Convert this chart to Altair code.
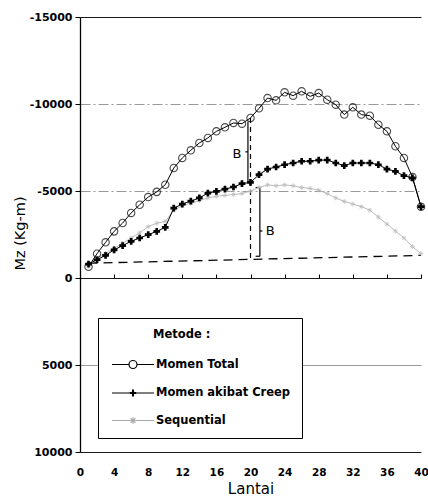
import altair as alt
import pandas as pd

# ---------------- data ----------------
floors = list(range(1, 41))
momen_total = [-650, -1400, -2050, -2680, -3160, -3740, -4210, -4650, -4950, -5360,
               -6320, -6900, -7340, -7760, -8050, -8430, -8660, -8910, -8870, -9200,
               -9750, -10340, -10210, -10670, -10480, -10730, -10440, -10630, -10250, -9960,
               -9390, -9810, -9390, -9330, -8810, -8430, -7570, -6900, -5800, -4100]
momen_creep = [-800, -1050, -1300, -1620, -1860, -2110, -2300, -2490, -2680, -2910,
               -4020, -4250, -4420, -4600, -4880, -4980, -5110, -5230, -5420, -5500,
               -5940, -6260, -6380, -6510, -6610, -6710, -6710, -6770, -6780, -6610,
               -6460, -6610, -6610, -6610, -6510, -6260, -6130, -5880, -5750, -4100]
sequential = [-700, -1100, -1400, -1700, -2000, -2300, -2600, -2950, -3150, -3250,
              -3900, -4150, -4300, -4450, -4600, -4700, -4750, -4800, -4850, -5000,
              -5200, -5350, -5300, -5350, -5300, -5200, -5150, -5050, -4850, -4600,
              -4400, -4250, -4100, -3900, -3500, -3100, -2700, -2300, -1800, -1400]
series_names = ["Momen Total", "Momen akibat Creep", "Sequential"]
series_colors = ["black", "black", "#a9a9a9"]

x_ticks = list(range(0, 41, 4))
y_ticks = [-15000, -10000, -5000, 0, 5000, 10000]

baseline_x = [1, 40]
baseline_y = [-850, -1300]

gap_x = [20]
gap_top = [-9200]
gap_bottom = [-1100]

brace_x1 = [19.7, 19.7, 21.1, 21.1, 21.1, 21.1]
brace_x2 = [19.7, 19.4, 21.1, 21.4, 20.6, 20.6]
brace_y1 = [-9000, -7250, -5200, -2700, -5200, -1250]
brace_y2 = [-5500, -7250, -1250, -2700, -5200, -1250]

label_x = [18.4, 22.3]
label_y = [-7100, -2700]
label_text = ["B", "B"]

# ---------------- tables ----------------
rows = []
for name, vals in zip(series_names, [momen_total, momen_creep, sequential]):
    for f, v in zip(floors, vals):
        rows.append({"x": f, "y": v, "series": name})
df = pd.DataFrame(rows)
base_df = pd.DataFrame({"x": baseline_x, "y": baseline_y})
gap_df = pd.DataFrame({"x": gap_x, "y": gap_top, "y2": gap_bottom})
brace_df = pd.DataFrame({"x": brace_x1, "x2": brace_x2, "y": brace_y1, "y2": brace_y2})
lab_df = pd.DataFrame({"x": label_x, "y": label_y, "t": label_text})

FONT = "DejaVu Sans"

xscale = alt.Scale(domain=[0, 40], nice=False, zero=False)
yscale = alt.Scale(domain=[-15000, 10000], reverse=True, nice=False, zero=False)

x_axis = alt.Axis(values=x_ticks, title="Lantai", grid=False, domain=False, ticks=True,
                  tickSize=4, tickColor="black", tickWidth=1, offset=-178, labelPadding=189,
                  labelFont=FONT, labelFontSize=10.5, labelFontWeight="bold", labelColor="black",
                  labelFlush=False, labelOverlap=False, titleFont=FONT, titleFontSize=15,
                  titleFontWeight="normal", titleColor="black", titlePadding=7)

y_axis = alt.Axis(values=y_ticks, title="Mz (Kg-m)", grid=True,
                  gridColor=alt.condition("datum.value == 0 || datum.value == -15000 || datum.value == 10000",
                                          alt.value("#1a1a1a"), alt.value("#9a9a9a")),
                  gridDash=alt.condition("datum.value == -10000 || datum.value == -5000",
                                         alt.value([10, 3, 2, 3]), alt.value([])),
                  gridWidth=1.1,
                  domain=True, domainColor="black", domainWidth=1.3, tickSize=5, tickColor="black",
                  labelPadding=3, labelFont=FONT, labelFontSize=11, labelFontWeight="bold",
                  labelColor="black", labelFlush=False, labelOverlap=False,
                  labelExpr="'' + datum.value",
                  titleFont=FONT, titleFontSize=14.5, titleFontWeight="normal", titleColor="black",
                  titleX=-60, titleY=216, titleAngle=270, titleAlign="center", titleBaseline="middle")

X = alt.X("x:Q", scale=xscale, axis=x_axis)
Y = alt.Y("y:Q", scale=yscale, axis=y_axis)

baseline = alt.Chart(base_df).mark_line(color="black", strokeDash=[9, 6], strokeWidth=1.3).encode(x=X, y=Y)
gap = alt.Chart(gap_df).mark_rule(color="black", strokeDash=[5, 4], strokeWidth=1.2).encode(
    x=X, y=Y, y2=alt.Y2("y2"))
braces = alt.Chart(brace_df).mark_rule(color="black", strokeWidth=1.2).encode(
    x=X, x2=alt.X2("x2"), y=Y, y2=alt.Y2("y2"))
blabels = alt.Chart(lab_df).mark_text(font=FONT, fontSize=13, color="black").encode(
    x=X, y=Y, text="t:N")

seq_df = df[df.series == "Sequential"]
blk_df = df[df.series != "Sequential"]

seq_line = alt.Chart(seq_df).mark_line(color="#bdbdbd", strokeWidth=1).encode(x=X, y=Y)
asterisk = "M-1,0H1M0,-1V1M-0.7,-0.7L0.7,0.7M-0.7,0.7L0.7,-0.7"
seq_pts = alt.Chart(seq_df).mark_point(shape=asterisk, size=22, color="#b8b8b8", filled=False,
                                       strokeWidth=1).encode(x=X, y=Y)
blk_lines = alt.Chart(blk_df).mark_line(color="black", strokeWidth=1).encode(x=X, y=Y, detail="series:N")
circles = alt.Chart(df[df.series == "Momen Total"]).mark_point(
    shape="circle", size=55, color="black", filled=False, strokeWidth=1.1).encode(x=X, y=Y)
crosses = alt.Chart(df[df.series == "Momen akibat Creep"]).mark_point(
    shape="cross", size=45, color="black", filled=True, opacity=1).encode(x=X, y=Y)

leg_paths = [
    "M-3,0H-0.57M0.57,0H3M0.57,0A0.57,0.57 0 1,1 -0.57,0A0.57,0.57 0 1,1 0.57,0",
    "M-3,0H3M-0.06,-0.5V0.5M0.06,-0.5V0.5M-0.45,0.06H0.45M-0.45,-0.06H0.45",
    "M-3,0H3M-0.35,-0.35L0.35,0.35M-0.35,0.35L0.35,-0.35M0,-0.45V0.45",
]
indent = "\u200b" + "\u00a0" * 11
leg = alt.Legend(title=indent + "Metode :", orient="none", legendX=18, legendY=301,
                 fillColor="white", strokeColor="black", padding=11,
                 symbolSize=196, symbolStrokeWidth=1.2, symbolOffset=16, labelOffset=15,
                 rowPadding=13.5, titlePadding=16,
                 labelFont=FONT, labelFontSize=11.5, labelFontWeight="bold", labelColor="black",
                 titleFont=FONT, titleFontSize=11.5, titleFontWeight="bold", titleColor="black",
                 labelLimit=300, titleLimit=300)
legend_layer = alt.Chart(df).mark_point(filled=False, opacity=0).encode(
    x=X, y=Y,
    color=alt.Color("series:N", scale=alt.Scale(domain=series_names, range=series_colors), legend=leg,
                    sort=series_names),
    shape=alt.Shape("series:N", scale=alt.Scale(domain=series_names, range=leg_paths), legend=leg,
                    sort=series_names),
)

chart = alt.layer(baseline, gap, braces, blabels, seq_line, seq_pts, blk_lines, circles, crosses,
                  legend_layer).properties(
    width=341, height=435,
    autosize=alt.AutoSizeParams(type="none"),
    padding={"left": 80, "top": 17, "right": 7, "bottom": 49},
    background="white",
).configure_view(stroke=None)

chart.save("out.html", embed_options={"renderer": "svg", "actions": False})
